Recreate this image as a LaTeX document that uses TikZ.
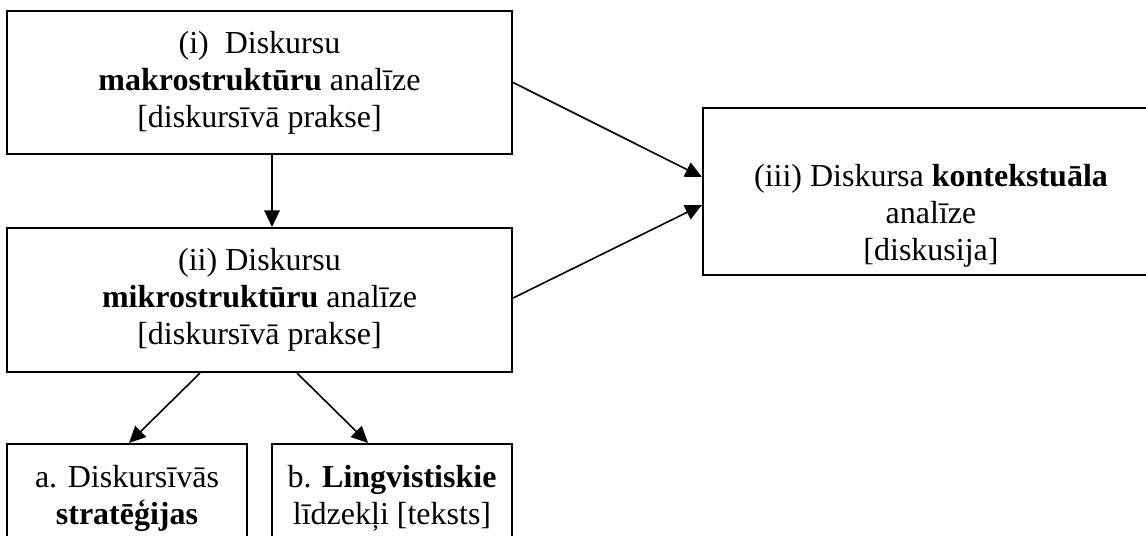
\documentclass[tikz,border=0pt]{standalone}
\usepackage{fontspec}
\setmainfont{Liberation Serif}
\usetikzlibrary{arrows.meta}
\usetikzlibrary{calc}

\newcommand{\pxu}{0.375pt}

\begin{document}
\begin{tikzpicture}[x=0.375pt, y=-0.375pt,
    box/.style={draw, line width=0.8pt, align=center, inner sep=0pt,
      font=\fontsize{12}{13.9}\selectfont},
    txt/.style={align=center, inner sep=0pt, font=\fontsize{12}{13.9}\selectfont},
    arr/.style={-{Triangle[length=6.2pt,width=5.8pt]}, line width=0.6pt}]
    \useasboundingbox (0,0) rectangle (1146,535);
    \clip (0,0) rectangle (1146,535);

    \node[box, minimum width=505*\pxu, minimum height=143*\pxu] (makro) at (259.5,82.5)
        {(i)\ \ Diskursu\\ \textbf{makrostruktūru} analīze\\ {[}diskursīvā prakse]};
    \node[box, minimum width=505*\pxu, minimum height=144*\pxu] (mikro) at (259.5,300)
        {(ii) Diskursu\\ \textbf{mikrostruktūru} analīze\\ {[}diskursīvā prakse]};
    \node[box, minimum width=456*\pxu, minimum height=167*\pxu] (konteksts) at (931,191.5) {};
    \node[txt] (kontekststxt) at ($(konteksts.center)+(0,24)$)
        {(iii) Diskursa \textbf{kontekstuāla}\\ analīze\\ {[}diskusija]};
    \node[box, minimum width=240*\pxu, minimum height=108*\pxu] (strat) at (127,498)
        {a. Diskursīvās\\ \textbf{stratēģijas}};
    \node[box, minimum width=240*\pxu, minimum height=108*\pxu] (ling) at (392,498)
        {b. \textbf{Lingvistiskie}\\ līdzekļi [teksts]};

    \draw[arr] ($(makro.south)+(12.5,0)$) -- ($(mikro.north)+(12.5,0)$);
    \draw[arr] (makro.east) -- ($(konteksts.west)+(0,-14.5)$);
    \draw[arr] ($(mikro.east)+(0,-2)$) -- ($(konteksts.west)+(0,13.5)$);
    \draw[arr] ($(mikro.south)+(-59.5,0)$) -- ($(strat.north)+(2,0)$);
    \draw[arr] ($(mikro.south)+(37.5,0)$) -- ($(ling.north)+(-24,0)$);
\end{tikzpicture}
\end{document}
